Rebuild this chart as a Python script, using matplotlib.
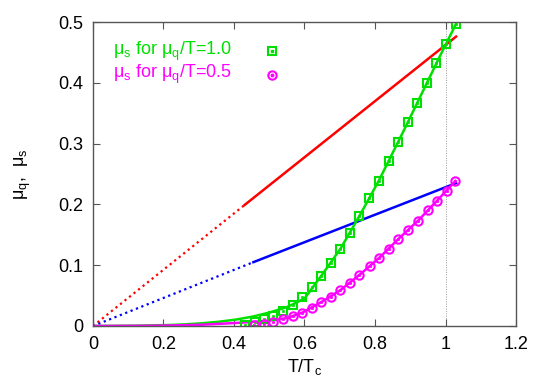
import numpy as np
import matplotlib
matplotlib.use("Agg")
import matplotlib.pyplot as plt

plt.rcParams['font.family'] = ['Liberation Sans', 'DejaVu Sans']
plt.rcParams['mathtext.fontset'] = 'custom'
plt.rcParams['mathtext.rm'] = 'Liberation Sans'
plt.rcParams['mathtext.it'] = 'Liberation Sans'

# mu_q lines (straight, dotted below the start of the data range)
red_T = [0.0, 0.43, 1.03]
red_mu = [0.0, 0.199, 0.476]
blue_T = [0.0, 0.455, 1.03]
blue_mu = [0.0, 0.105, 0.235]

# mu_s data points, mu_q/T = 1.0
sq_T = [0.432, 0.460, 0.484, 0.512, 0.539, 0.566, 0.594, 0.620, 0.647, 0.674,
        0.702, 0.728, 0.756, 0.782, 0.810, 0.839, 0.866, 0.894, 0.920, 0.948,
        0.974, 1.002, 1.029]
sq_mu = [0.002, 0.007, 0.011, 0.016, 0.024, 0.034, 0.047, 0.064, 0.082, 0.103,
         0.127, 0.153, 0.181, 0.210, 0.238, 0.271, 0.303, 0.335, 0.367, 0.400,
         0.432, 0.464, 0.496]

# mu_s data points, mu_q/T = 0.5
ci_T = [0.458, 0.486, 0.512, 0.539, 0.566, 0.594, 0.620, 0.647, 0.674, 0.702,
        0.728, 0.756, 0.787, 0.812, 0.840, 0.866, 0.894, 0.922, 0.950, 0.976,
        1.003, 1.028]
ci_mu = [0.002, 0.004, 0.007, 0.011, 0.016, 0.022, 0.030, 0.039, 0.048, 0.059,
         0.071, 0.084, 0.098, 0.112, 0.127, 0.143, 0.158, 0.173, 0.190, 0.206,
         0.222, 0.2385]

# fitted curves for mu_s
green_T = [0.0, 0.1, 0.2, 0.25, 0.3, 0.35, 0.4, 0.45, 0.5, 0.55, 0.6, 0.647,
           0.702, 0.756, 0.810, 0.866, 0.920, 0.974, 1.029]
green_mu = [0.0, 0.0003, 0.0013, 0.0023, 0.0040, 0.0065, 0.010, 0.015, 0.022,
            0.031, 0.045, 0.082, 0.127, 0.181, 0.238, 0.303, 0.367, 0.432, 0.496]
mag_T = [0.0, 0.1, 0.2, 0.3, 0.39, 0.45, 0.5, 0.55, 0.594, 0.647, 0.702,
         0.756, 0.812, 0.866, 0.922, 0.976, 1.028]
mag_mu = [0.0, 0.0001, 0.0006, 0.0018, 0.0044, 0.0065, 0.009, 0.013, 0.022,
          0.039, 0.059, 0.084, 0.112, 0.143, 0.173, 0.206, 0.2385]

fig = plt.figure(figsize=(5.45, 3.82), dpi=100)
ax = fig.add_axes([0.1706, 0.1466, 0.7762, 0.7958])

green = '#00e000'
mag = '#ff00ff'

ax.axvline(1.0, color='#999999', lw=0.7, ls=(0, (1, 1.5)), zorder=1)

ax.plot(red_T[:2], red_mu[:2], color='#ff0000', lw=1.6, ls=(0, (1, 1.6)))
ax.plot(red_T[1:], red_mu[1:], color='#ff0000', lw=1.8)
ax.plot(blue_T[:2], blue_mu[:2], color='#0000ff', lw=1.6, ls=(0, (1, 1.6)))
ax.plot(blue_T[1:], blue_mu[1:], color='#0000ff', lw=1.8)

tg = np.linspace(0, green_T[-1], 300)
ax.plot(tg, np.interp(tg, green_T, green_mu), color=green, lw=1.8)
tm = np.linspace(0, mag_T[-1], 300)
ax.plot(tm, np.interp(tm, mag_T, mag_mu), color=mag, lw=1.8)

ax.plot(sq_T, sq_mu, ls='none', marker='s', ms=6, mfc='none', mec=green, mew=1.5)
ax.plot(sq_T, sq_mu, ls='none', marker='s', ms=1.8, mfc=green, mec=green, mew=0.5)
ax.plot(ci_T, ci_mu, ls='none', marker='o', ms=6, mfc='none', mec=mag, mew=1.5)
ax.plot(ci_T, ci_mu, ls='none', marker='o', ms=1.8, mfc=mag, mec=mag, mew=0.5)

# legend drawn gnuplot-style: text then a point sample
ax.text(0.057, 0.452, 'μ$_\\mathrm{s}$ for μ$_\\mathrm{q}$/T=1.0', color=green,
        fontsize=13, va='center', ha='left')
ax.plot([0.508], [0.452], marker='s', ms=6, mfc='none', mec=green, mew=1.5)
ax.plot([0.508], [0.452], marker='s', ms=1.8, mfc=green, mec=green)
ax.text(0.057, 0.413, 'μ$_\\mathrm{s}$ for μ$_\\mathrm{q}$/T=0.5', color=mag,
        fontsize=13, va='center', ha='left')
ax.plot([0.508], [0.413], marker='o', ms=6, mfc='none', mec=mag, mew=1.5)
ax.plot([0.508], [0.413], marker='o', ms=1.8, mfc=mag, mec=mag)

ax.set_xlim(0, 1.2)
ax.set_ylim(0, 0.5)
ax.set_xticks([0, 0.2, 0.4, 0.6, 0.8, 1.0, 1.2])
ax.set_xticklabels(['0', '0.2', '0.4', '0.6', '0.8', '1', '1.2'])
ax.set_yticks([0, 0.1, 0.2, 0.3, 0.4, 0.5])
ax.set_yticklabels(['0', '0.1', '0.2', '0.3', '0.4', '0.5'])
ax.tick_params(direction='in', top=True, right=True, length=5, labelsize=13,
               color='#555555', pad=7)
for s in ax.spines.values():
    s.set_color('#555555')
    s.set_linewidth(1.0)

ax.set_xlabel('T/T$_\\mathrm{c}$', fontsize=13, labelpad=3)
ax.set_ylabel('μ$_\\mathrm{q}$,  μ$_\\mathrm{s}$', fontsize=13, labelpad=18)

fig.savefig('out.png', dpi=100)
